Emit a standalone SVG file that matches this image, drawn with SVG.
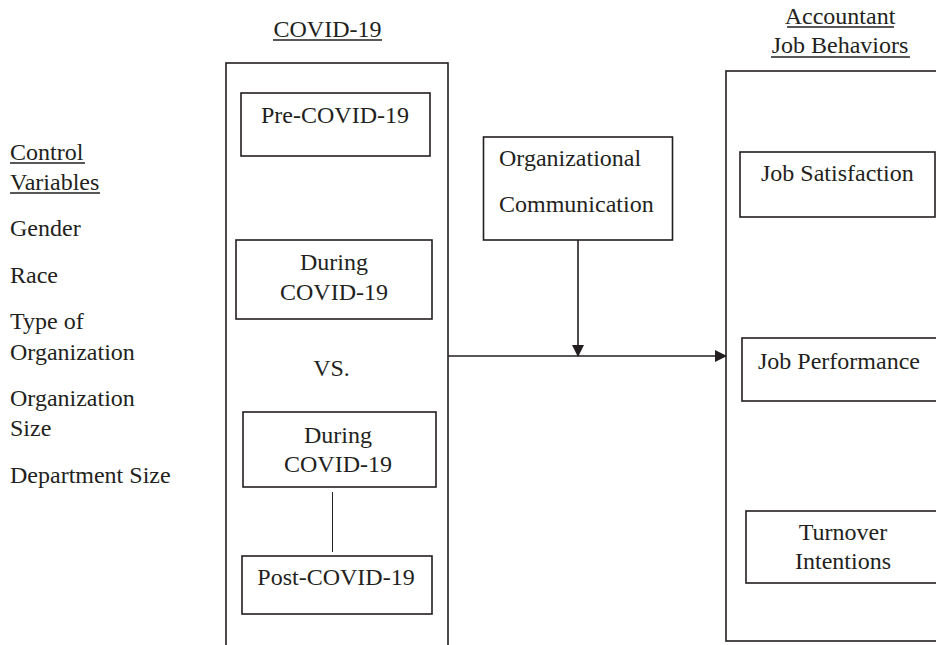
<svg xmlns="http://www.w3.org/2000/svg" width="936" height="645" viewBox="0 0 936 645">
<style>
text{font-family:"Liberation Serif","Times New Roman",serif;font-size:24px;fill:#231f20}
.c{text-anchor:middle}
.box{fill:none;stroke:#231f20;stroke-width:1.6}
.ln{stroke:#231f20;stroke-width:1.6;fill:none}
.thin{stroke:#231f20;stroke-width:1;fill:none}
.ul{stroke:#231f20;stroke-width:1.3}
</style>
<defs>
<marker id="ah" markerWidth="12" markerHeight="12" refX="11" refY="6" orient="auto" markerUnits="userSpaceOnUse">
<path d="M0,0 L12,6 L0,12 Z" fill="#231f20"/>
</marker>
</defs>
<g id="title-covid">
<text x="327.5" y="37" class="c">COVID-19</text>
<line x1="273" y1="40" x2="382" y2="40" class="ul"/>
</g>
<g id="title-accountant">
<text x="840" y="24" class="c">Accountant</text>
<line x1="787" y1="27" x2="894" y2="27" class="ul"/>
<text x="840" y="53" class="c">Job Behaviors</text>
<line x1="771" y1="57" x2="910" y2="57" class="ul"/>
</g>
<g id="control-variables">
<text x="10" y="160">Control</text>
<line x1="10" y1="163" x2="85" y2="163" class="ul"/>
<text x="10" y="190">Variables</text>
<line x1="10" y1="193" x2="100" y2="193" class="ul"/>
<text x="10" y="236">Gender</text>
<text x="10" y="283">Race</text>
<text x="10" y="329">Type of</text>
<text x="10" y="360">Organization</text>
<text x="10" y="406">Organization</text>
<text x="10" y="436">Size</text>
<text x="10" y="483">Department Size</text>
</g>
<g id="covid-box">
<rect x="226" y="63" width="222" height="600" class="box"/>
</g>
<g id="pre-covid">
<rect x="241" y="93" width="189" height="63" class="box"/>
<text x="335" y="123" class="c">Pre-COVID-19</text>
</g>
<g id="during-covid-1">
<rect x="236" y="240" width="196" height="79" class="box"/>
<text x="334" y="270" class="c">During</text>
<text x="334" y="300" class="c">COVID-19</text>
</g>
<g id="vs">
<text x="331.5" y="376" class="c">VS.</text>
</g>
<g id="during-covid-2">
<rect x="243" y="412" width="193" height="75" class="box"/>
<text x="338" y="443" class="c">During</text>
<text x="338" y="472" class="c">COVID-19</text>
</g>
<g id="post-covid">
<rect x="242" y="556" width="190" height="58" class="box"/>
<text x="336" y="585" class="c">Post-COVID-19</text>
</g>
<g id="org-communication">
<rect x="483.5" y="137" width="189" height="103" class="box"/>
<text x="499" y="166">Organizational</text>
<text x="499" y="212">Communication</text>
</g>
<g id="behaviors-box">
<rect x="726" y="71" width="230" height="570" class="box"/>
</g>
<g id="job-satisfaction">
<rect x="740" y="152" width="195" height="65" class="box"/>
<text x="761" y="181">Job Satisfaction</text>
</g>
<g id="job-performance">
<rect x="742" y="338" width="214" height="63" class="box"/>
<text x="758" y="369">Job Performance</text>
</g>
<g id="turnover-intentions">
<rect x="746" y="511" width="210" height="72" class="box"/>
<text x="843" y="540" class="c">Turnover</text>
<text x="843" y="569" class="c">Intentions</text>
</g>
<g id="connectors">
<line x1="448" y1="356" x2="726" y2="356" class="ln" marker-end="url(#ah)"/>
<line x1="578" y1="240" x2="578" y2="356" class="ln" marker-end="url(#ah)"/>
<line x1="332.5" y1="492" x2="332.5" y2="552" class="thin"/>
</g>
</svg>
